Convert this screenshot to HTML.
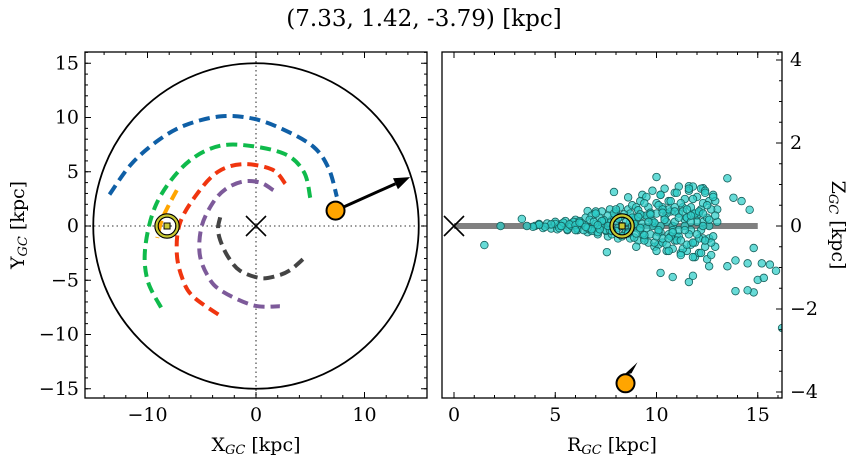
<!DOCTYPE html>
<html><head><meta charset="utf-8">
<style>
html,body{margin:0;padding:0;background:#fff;}
svg{display:block;font-family:"DejaVu Serif","Liberation Serif",serif;}
</style></head>
<body>
<svg id="chart" width="854" height="464" viewBox="0 0 854 464" xmlns="http://www.w3.org/2000/svg">
<text x="424" y="26" font-size="23" text-anchor="middle">(7.33, 1.42, -3.79) [kpc]</text>
<g id="left"></g>
<g id="right"></g>
<text x="256" y="451" font-size="19" text-anchor="middle">X<tspan font-size="13" font-style="italic" dy="3">GC</tspan><tspan dy="-3"> [kpc]</tspan></text>
<text transform="translate(24,225) rotate(-90)" font-size="19" text-anchor="middle">Y<tspan font-size="13" font-style="italic" dy="3">GC</tspan><tspan dy="-3"> [kpc]</tspan></text>
<text x="612" y="451" font-size="19" text-anchor="middle">R<tspan font-size="13" font-style="italic" dy="3">GC</tspan><tspan dy="-3"> [kpc]</tspan></text>
<text transform="translate(832,225) rotate(90)" font-size="19" text-anchor="middle">Z<tspan font-size="13" font-style="italic" dy="3">GC</tspan><tspan dy="-3"> [kpc]</tspan></text>
</svg>
<script>
// ---- data ----
const blueOrbitX = [-13.5,-11.5,-9,-6.5,-3.3,-0.3,2.5,5.3,6.7,7.45];
const blueOrbitY = [2.9,5.7,7.9,9.3,10.1,9.9,8.9,7.3,5.3,2.7];
const greenOrbitX = [5.0,4.4,2.5,-1.75,-4.5,-7,-9.2,-10.2,-10.0,-8.7];
const greenOrbitY = [2.6,5.0,6.7,7.5,7.0,5.2,2.0,-1.9,-5.0,-7.6];
const redOrbitX = [2.7,1.5,-1.2,-3.5,-5.4,-7.0,-7.3,-6.8,-5.8,-3.1];
const redOrbitY = [3.9,5.2,5.7,5.0,3.0,0.3,-2.5,-4.8,-6.5,-8.4];
const purpleOrbitX = [1.6,0.4,-1.2,-2.8,-4.0,-5.0,-5.2,-4.5,-3.3,-0.3,2.2];
const purpleOrbitY = [3.3,4.0,4.1,3.4,2.1,0.0,-2.5,-4.5,-5.9,-7.3,-7.4];
const grayOrbitX = [-3.3,-3.5,-3.3,-2.6,-1.5,0.4,1.9,3.1,4.4];
const grayOrbitY = [0.8,-0.2,-1.3,-2.8,-4.1,-4.8,-4.6,-4.1,-3.0];
const orangeOrbitX = [-7.3,-8.0,-8.7,-9.1];
const orangeOrbitY = [3.3,2.0,0.5,-1.1];
const leftXTicks = [-10,0,10];
const leftYTicks = [-15,-10,-5,0,5,10,15];
const rightXTicks = [0,5,10,15];
const rightYTicks = [-4,-2,0,2,4];
const objX = [7.33], objY = [1.42], objZ = [-3.79], objR = [8.47];
const sunX = [-8.2], sunY = [0], sunR = [8.3], sunZ = [0];
const rVals = [1.5,2.3,3.35,7.9,7.55,10.2,10.8,11.6,11.8,13.9,14.8,14.5,15.0,15.3,15.9,16.2,14.8,14.5,15.2,15.6,13.9,13.5,12.6,14.6,14.2,13.8,11.6,12.3,9.3,8.6,6.6,7.0,10.0,13.5,
4.0,4.2,4.4,4.6,4.8,5.0,5.1,5.3,5.5,5.6,5.8,6.0,6.1,6.3,6.5,6.6,6.8,6.9,7.0,7.1,7.3,7.4,7.6,7.7,7.8,8.0,8.1,8.2,8.4,8.6,8.7,8.8,8.9,9.0,9.1,9.2,9.3,9.4,9.5,9.6,9.7,9.8,9.9,10.0,10.1,10.2,10.3,10.4,10.5,10.6,10.7,10.8,10.9,11.0,11.1,11.2,11.3,11.4,11.5,11.6,11.7,11.8,11.9,12.0,12.1,12.2,12.3,12.4,12.5,12.6,12.7,12.8,12.9,13.0,
5.2,5.7,6.2,6.7,7.2,7.5,7.9,8.3,8.5,8.9,9.3,9.6,9.9,10.2,10.5,10.8,11.1,11.4,11.7,12.0,12.3,12.6,9.0,9.8,10.6,11.5,12.2,10.9,11.8,8.7,10.3,
5.0,5.2,5.4,5.6,5.8,5.9,6.1,6.2,6.4,6.5,6.7,6.8,7.0,7.1,7.2,7.3,7.5,7.6,7.7,7.8,7.9,8.0,8.1,8.2,8.3,8.5,8.6,8.7,8.8,8.9,9.0,9.1,9.2,9.3,9.4,9.5,9.6,9.7,9.8,9.9,10.0,10.1,10.2,10.3,10.4,10.5,10.6,10.7,10.8,10.9,11.0,11.1,11.2,11.3,11.4,11.5,11.6,11.7,11.8,11.9,12.0,12.1,12.2,12.3,12.4,12.5,12.6,12.7,12.8,12.9,13.0,
5.3,5.7,6.0,6.3,6.6,6.9,7.2,7.4,7.7,8.0,8.4,8.8,9.0,9.2,9.5,9.7,9.9,10.1,10.3,10.5,10.7,10.9,11.1,11.3,11.5,11.7,11.9,12.1,12.3,12.5,12.7,12.9,10.0,10.6,11.2,11.8,12.2,9.4,10.2,11.0,11.6,12.4,12.8,9.0,8.0,7.0,6.0,4.8,4.5,4.2,3.9,3.6,
6.2,6.8,7.3,7.8,8.1,8.6,9.1,9.4,9.7,10.0,10.3,10.6,10.9,11.2,11.5,11.8,12.1,12.4,6.5,7.1,7.6,8.9,9.2,9.6,10.1,10.4,10.8,11.1,11.4,11.7,12.0,12.3,12.6];
const zVals = [-0.46,0.0,0.17,0.82,-0.63,-1.13,-1.23,-1.35,-1.2,-1.57,-1.6,-1.55,-1.3,-1.25,-1.08,-2.46,-0.53,-0.9,-0.9,-0.93,-0.83,-0.97,-0.97,0.39,0.6,0.68,0.96,0.91,0.75,0.69,0.36,0.35,1.18,1.15,
0.0,0.05,-0.05,0.06,-0.06,0.1,-0.08,0.05,0.12,-0.1,0.06,0.15,-0.1,0.05,0.2,-0.15,0.25,-0.05,0.3,-0.2,0.35,0.1,-0.25,0.4,0.15,0.35,-0.3,0.45,-0.2,0.4,-0.3,0.5,0.2,0.45,-0.35,0.6,0.25,-0.3,0.7,-0.4,0.3,0.85,-0.5,0.55,-0.45,0.75,-0.4,0.9,-0.6,0.6,0.35,-0.55,0.8,-0.25,0.95,-0.65,0.45,0.65,-0.6,0.85,-0.45,0.95,-0.75,0.7,-0.65,0.9,-0.3,0.85,-0.8,0.6,-0.7,0.75,-0.5,0.4,
0.0,-0.03,0.1,-0.08,0.05,-0.12,0.2,0.0,-0.1,0.1,-0.2,0.2,0.05,-0.15,0.3,0.0,-0.25,0.15,-0.1,0.25,0.1,-0.3,-0.05,0.0,-0.2,0.2,0.4,-0.35,0.3,0.1,0.45,
0.05,-0.05,0.08,-0.08,0.0,0.1,-0.06,0.12,-0.1,0.02,0.15,-0.12,0.05,-0.15,0.2,0.0,-0.1,0.25,0.08,-0.2,0.3,0.12,-0.05,0.22,-0.25,0.1,-0.15,0.3,0.0,-0.28,0.18,0.38,-0.1,0.05,-0.35,0.25,0.45,-0.2,0.12,-0.4,0.3,0.5,0.0,-0.3,0.2,-0.45,0.4,0.6,-0.1,0.1,-0.35,0.3,0.55,-0.55,0.0,0.2,-0.2,0.45,0.65,-0.4,0.1,0.3,-0.1,0.55,-0.5,0.2,0.0,0.4,-0.25,0.6,0.1,
0.0,0.04,0.02,0.07,-0.05,0.1,-0.08,0.14,-0.1,-0.12,0.28,0.2,-0.18,0.28,-0.05,0.32,0.08,-0.15,0.4,0.1,-0.25,0.45,-0.1,0.35,-0.45,0.1,0.3,-0.3,0.0,0.5,-0.4,0.25,-0.6,-0.6,-0.7,-0.75,-0.65,0.55,0.75,0.8,0.9,0.8,0.7,-0.5,0.4,0.3,-0.1,0.04,-0.02,0.03,-0.02,0.0,
0.08,-0.08,0.12,-0.12,0.18,-0.18,0.22,-0.22,0.28,-0.25,0.32,-0.3,0.35,-0.35,0.4,-0.4,0.35,-0.35,-0.02,0.02,0.0,0.05,-0.05,0.1,-0.1,0.15,-0.15,0.2,-0.1,0.25,-0.2,0.3,0.15];

const NS = "http://www.w3.org/2000/svg";
function mk(parent, tag, attrs){const e=document.createElementNS(NS,tag);for(const k in attrs)e.setAttribute(k,attrs[k]);parent.appendChild(e);return e;}

// ---- left axes ----
const L = {x0:85,x1:427,y0:52,y1:398};
const lx = v => 256 + v*10.85;
const ly = v => 226 - v*10.85;
const gL = document.getElementById('left');
mk(gL,'line',{x1:lx(0),y1:L.y0,x2:lx(0),y2:L.y1,stroke:'#777','stroke-width':1.6,'stroke-dasharray':'1.5,3'});
mk(gL,'line',{x1:L.x0,y1:ly(0),x2:L.x1,y2:ly(0),stroke:'#777','stroke-width':1.6,'stroke-dasharray':'1.5,3'});
const circ = mk(gL,'circle',{cx:lx(0),cy:ly(0),r:15*10.85,fill:'none',stroke:'#000','stroke-width':1.8});


function smoothPath(P){
  let d='M'+P[0][0]+','+P[0][1];
  for(let i=0;i<P.length-1;i++){
    const p0=P[Math.max(0,i-1)],p1=P[i],p2=P[i+1],p3=P[Math.min(P.length-1,i+2)];
    const c1x=p1[0]+(p2[0]-p0[0])/6,c1y=p1[1]+(p2[1]-p0[1])/6;
    const c2x=p2[0]-(p3[0]-p1[0])/6,c2y=p2[1]-(p3[1]-p1[1])/6;
    d+=` C${c1x},${c1y} ${c2x},${c2y} ${p2[0]},${p2[1]}`;
  }
  return d;
}
function orbit(xs,ys,color,name){
  const P = xs.map((x,i)=>[lx(x),ly(ys[i])]);
  const p = mk(gL,'path',{d:smoothPath(P),fill:'none',stroke:color,'stroke-width':4,'stroke-dasharray':'11,6'});
  
  
}
orbit(blueOrbitX,blueOrbitY,'#0f5fa6','orbit-blue');
orbit(greenOrbitX,greenOrbitY,'#0fba4b','orbit-green');
orbit(redOrbitX,redOrbitY,'#f0350f','orbit-red');
orbit(purpleOrbitX,purpleOrbitY,'#7d5a9a','orbit-purple');
orbit(grayOrbitX,grayOrbitY,'#444444','orbit-gray');
orbit(orangeOrbitX,orangeOrbitY,'#ffa500','orbit-orange');
const gc = mk(gL,'path',{d:`M${lx(0)-10},${ly(0)-10}L${lx(0)+10},${ly(0)+10}M${lx(0)-10},${ly(0)+10}L${lx(0)+10},${ly(0)-10}`,stroke:'#000','stroke-width':1.6});


function sun(g,cx,cy,name){
  const s = mk(g,'g',{});
  
  
  mk(s,'circle',{cx:cx,cy:cy,r:10.5,fill:'none',stroke:'#000','stroke-width':4.5});
  mk(s,'circle',{cx:cx,cy:cy,r:10.5,fill:'none',stroke:'#c8c832','stroke-width':2.2});
  mk(s,'rect',{x:cx-3,y:cy-3,width:6,height:6,fill:'#c8c832',stroke:'#000','stroke-width':1});
}
sun(gL,lx(sunX[0]),ly(sunY[0]),'sun-marker-xy');
const ax0=lx(objX[0]),ay0=ly(objY[0]),ax1=lx(14.2),ay1=ly(4.5);
const ang=Math.atan2(ay1-ay0,ax1-ax0);
const arr = mk(gL,'g',{});


const hx=ax1-16*Math.cos(ang),hy=ay1-16*Math.sin(ang);
mk(arr,'line',{x1:ax0,y1:ay0,x2:hx,y2:hy,stroke:'#000','stroke-width':3});
mk(arr,'polygon',{points:`${ax1},${ay1} ${hx-6*Math.sin(ang)},${hy+6*Math.cos(ang)} ${hx+6*Math.sin(ang)},${hy-6*Math.cos(ang)}`,fill:'#000'});
const od = mk(gL,'circle',{cx:ax0,cy:ay0,r:9,fill:'#ffa500',stroke:'#000','stroke-width':2});


function frame(g,B,name){const r=mk(g,'rect',{x:B.x0,y:B.y0,width:B.x1-B.x0,height:B.y1-B.y0,fill:'none',stroke:'#000','stroke-width':1.3});}
frame(gL,L,'xy-frame');
function ticksX(g,B,fx,lo,hi,step,len){for(let v=lo;v<=hi+1e-9;v+=step){const x=fx(v);if(x<B.x0||x>B.x1)continue;mk(g,'line',{x1:x,y1:B.y1,x2:x,y2:B.y1-len,stroke:'#000','stroke-width':1});mk(g,'line',{x1:x,y1:B.y0,x2:x,y2:B.y0+len,stroke:'#000','stroke-width':1});}}
function ticksY(g,B,fy,lo,hi,step,len,left,right){for(let v=lo;v<=hi+1e-9;v+=step){const y=fy(v);if(y<B.y0||y>B.y1)continue;if(left)mk(g,'line',{x1:B.x0,y1:y,x2:B.x0+len,y2:y,stroke:'#000','stroke-width':1});if(right)mk(g,'line',{x1:B.x1,y1:y,x2:B.x1-len,y2:y,stroke:'#000','stroke-width':1});}}
ticksX(gL,L,lx,-16,16,2,3);ticksX(gL,L,lx,-10,10,10,6);
ticksY(gL,L,ly,-16,16,1,3,true,true);ticksY(gL,L,ly,-15,15,5,6,true,true);
function fmt(v){return v<0?'\u2212'+(-v):''+v;}
leftXTicks.forEach(v=>{const t=mk(gL,'text',{x:lx(v),y:421,'font-size':19,'text-anchor':'middle'});t.textContent=fmt(v);});
leftYTicks.forEach(v=>{const t=mk(gL,'text',{x:79,y:ly(v)+6,'font-size':19,'text-anchor':'end'});t.textContent=fmt(v);});

// ---- right axes ----
const R = {x0:442,x1:782,y0:52,y1:398};
const rx = v => 454 + v*20.25;
const ry = v => 226 - v*41.5;
const gR = document.getElementById('right');
const cp = mk(gR,'clipPath',{id:'rclip'});mk(cp,'rect',{x:R.x0,y:R.y0,width:R.x1-R.x0,height:R.y1-R.y0});
const plot = mk(gR,'g',{'clip-path':'url(#rclip)'});
const disk = mk(plot,'line',{x1:rx(0),y1:ry(0),x2:rx(15),y2:ry(0),stroke:'#808080','stroke-width':6});


const gc2 = mk(plot,'path',{d:`M${rx(0)-10},${ry(0)-10}L${rx(0)+10},${ry(0)+10}M${rx(0)-10},${ry(0)+10}L${rx(0)+10},${ry(0)-10}`,stroke:'#000','stroke-width':1.6});


const sg = mk(plot,'g',{});


rVals.forEach((r,i)=>{const c=mk(sg,'circle',{cx:rx(r),cy:ry(zVals[i]),r:3.8,fill:'rgba(45,205,200,0.72)',stroke:'#17605c','stroke-width':0.8});

});
sun(plot,rx(sunR[0]),ry(sunZ[0]),'sun-marker-rz');
const bx=rx(objR[0]),by=ry(objZ[0]);
const a2=mk(plot,'polygon',{points:`${bx+6},${by-10} ${bx+12},${by-21} ${bx-2},${by-8}`,fill:'#000'});


const od2=mk(plot,'circle',{cx:bx,cy:by,r:9,fill:'#ffa500',stroke:'#000','stroke-width':2});


frame(gR,R,'rz-frame');
ticksX(gR,R,rx,0,16,1,3);ticksX(gR,R,rx,0,15,5,6);
ticksY(gR,R,ry,-4,4,0.5,3,false,true);ticksY(gR,R,ry,-4,4,2,6,false,true);
rightXTicks.forEach(v=>{const t=mk(gR,'text',{x:rx(v),y:421,'font-size':19,'text-anchor':'middle'});t.textContent=fmt(v);});
rightYTicks.forEach(v=>{const t=mk(gR,'text',{x:790,y:ry(v)+6,'font-size':19,'text-anchor':'start'});t.textContent=fmt(v);});
</script>
</body></html>
